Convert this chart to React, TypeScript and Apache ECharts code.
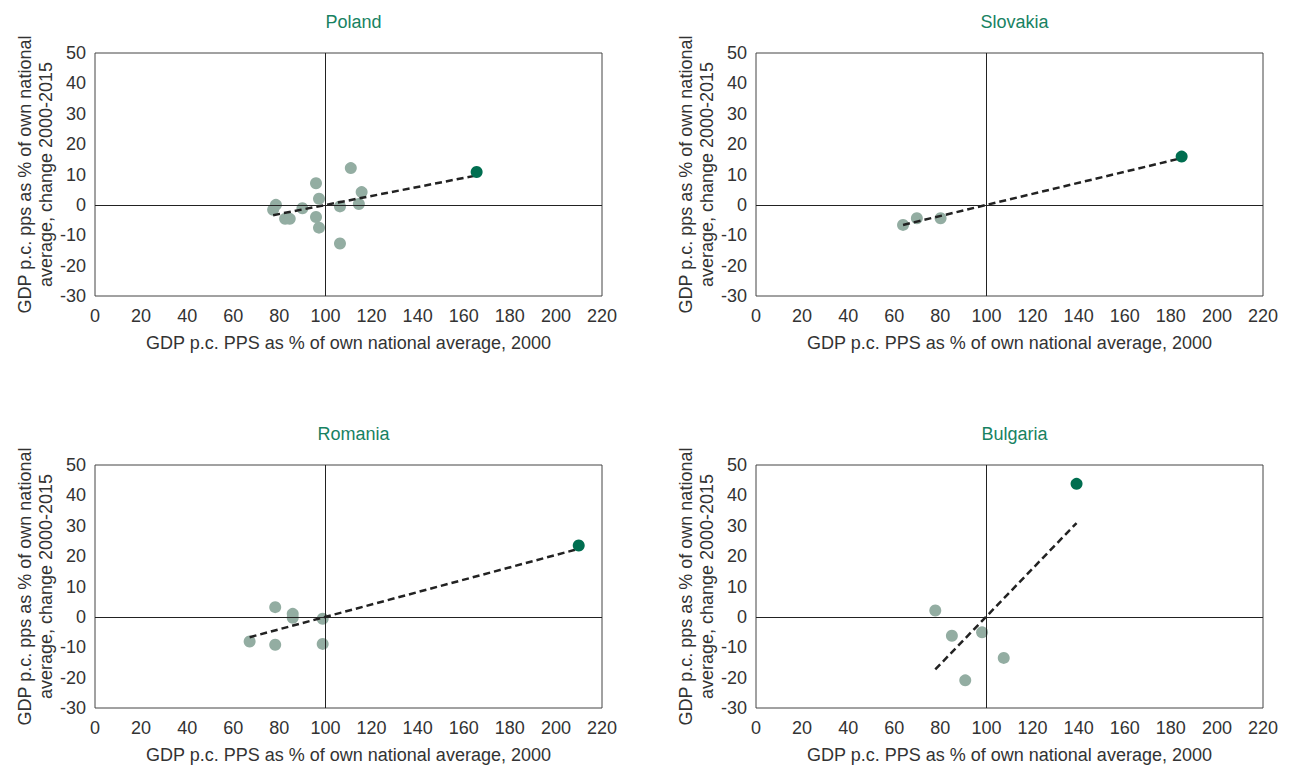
import React, { useEffect, useRef } from "react";
import * as echarts from "echarts";

const panelTitles = ["Poland", "Slovakia", "Romania", "Bulgaria"];

const polandRegions: number[][] = [
  [78.5, 0], [77.3, -1.6], [82.5, -4.6], [84.5, -4.6], [90, -1.1], [95.9, 7.1], [97.2, 2.0],
  [95.9, -4.0], [97.2, -7.5], [106.3, -0.5], [106.3, -12.7], [111, 12.1], [115.7, 4.2], [114.5, 0.3],
];
const polandCapital: number[][] = [[165.6, 10.8]];
const polandTrend: number[][] = [[77.3, -3.4], [165.6, 9.7]];

const slovakiaRegions: number[][] = [[63.8, -6.6], [69.8, -4.4], [80.1, -4.4]];
const slovakiaCapital: number[][] = [[184.7, 15.9]];
const slovakiaTrend: number[][] = [[63.8, -6.6], [184.7, 15.4]];

const romaniaRegions: number[][] = [
  [67.1, -8.1], [78.2, 3.2], [78.2, -9.2], [85.8, 1.0], [85.8, -0.3], [98.8, -0.6], [98.8, -8.9],
];
const romaniaCapital: number[][] = [[209.9, 23.5]];
const romaniaTrend: number[][] = [[67.1, -6.7], [209.9, 22.4]];

const bulgariaRegions: number[][] = [[77.8, 2.1], [85, -6.2], [98.1, -5.1], [107.5, -13.5], [90.8, -20.9]];
const bulgariaCapital: number[][] = [[139.1, 43.8]];
const bulgariaTrend: number[][] = [[77.8, -17.3], [139.1, 30.9]];

const regionsAll = [polandRegions, slovakiaRegions, romaniaRegions, bulgariaRegions];
const capitalsAll = [polandCapital, slovakiaCapital, romaniaCapital, bulgariaCapital];
const trendsAll = [polandTrend, slovakiaTrend, romaniaTrend, bulgariaTrend];

const xAxisName = "GDP p.c. PPS as % of own national average, 2000";
const yAxisName = "GDP p.c. pps as % of own national\naverage, change 2000-2015";

const FONT = "'Liberation Sans', Arial, Helvetica, sans-serif";

export default function App() {
  const ref = useRef<HTMLDivElement>(null);
  useEffect(() => {
    if (!ref.current) return;
    const chart = echarts.init(ref.current, undefined, { renderer: "svg" });
    const lefts = [95, 756];
    const tops = [53, 465];
    const w = 507;
    const h = 243;
    const grids: any[] = [];
    const xAxes: any[] = [];
    const yAxes: any[] = [];
    const series: any[] = [];
    const titles: any[] = [];
    for (let i = 0; i < 4; i++) {
      const l = lefts[i % 2];
      const t = tops[Math.floor(i / 2)];
      grids.push({ left: l, top: t, width: w, height: h, show: true, borderColor: "#444", borderWidth: 1, backgroundColor: "transparent" });
      titles.push({
        text: panelTitles[i],
        left: l + w / 2,
        top: t - 45,
        textAlign: "center",
        textStyle: { color: "#178262", fontSize: 18, fontWeight: "normal", fontFamily: FONT },
      });
      xAxes.push({
        gridIndex: i, type: "value", min: 0, max: 220, interval: 20,
        axisLine: { show: false }, axisTick: { show: false }, splitLine: { show: false },
        axisLabel: { color: "#333", fontSize: 18, fontFamily: FONT, margin: 11 },
        name: xAxisName, nameLocation: "middle", nameGap: 38,
        nameTextStyle: { color: "#333", fontSize: 18, fontFamily: FONT },
      });
      yAxes.push({
        gridIndex: i, type: "value", min: -30, max: 50, interval: 10,
        axisLine: { show: false }, axisTick: { show: false }, splitLine: { show: false },
        axisLabel: { color: "#333", fontSize: 18, fontFamily: FONT, margin: 9 },
        name: yAxisName, nameLocation: "middle", nameGap: 39, nameRotate: 90,
        nameTextStyle: { color: "#333", fontSize: 18, fontFamily: FONT, lineHeight: 21 },
      });
      series.push({
        type: "line", xAxisIndex: i, yAxisIndex: i, data: trendsAll[i], symbol: "none",
        lineStyle: { color: "#222", width: 2.5, type: [7, 4] }, z: 3,
        markLine: {
          silent: true, symbol: "none", label: { show: false },
          lineStyle: { color: "#222", width: 1, type: "solid" },
          data: [{ xAxis: 100 }, { yAxis: 0 }],
        },
      });
      series.push({
        type: "scatter", xAxisIndex: i, yAxisIndex: i, data: regionsAll[i], symbolSize: 12,
        itemStyle: { color: "#93ada2", opacity: 1 }, z: 2,
      });
      series.push({
        type: "scatter", xAxisIndex: i, yAxisIndex: i, data: capitalsAll[i], symbolSize: 12,
        itemStyle: { color: "#006e50", opacity: 1 }, z: 4,
      });
    }
    chart.setOption({
      animation: false,
      backgroundColor: "#fff",
      title: titles,
      grid: grids,
      xAxis: xAxes,
      yAxis: yAxes,
      series,
    });
    return () => chart.dispose();
  }, []);
  return <div ref={ref} style={{ width: 1297, height: 767, position: "absolute", left: 0, top: 0 }} />;
}
